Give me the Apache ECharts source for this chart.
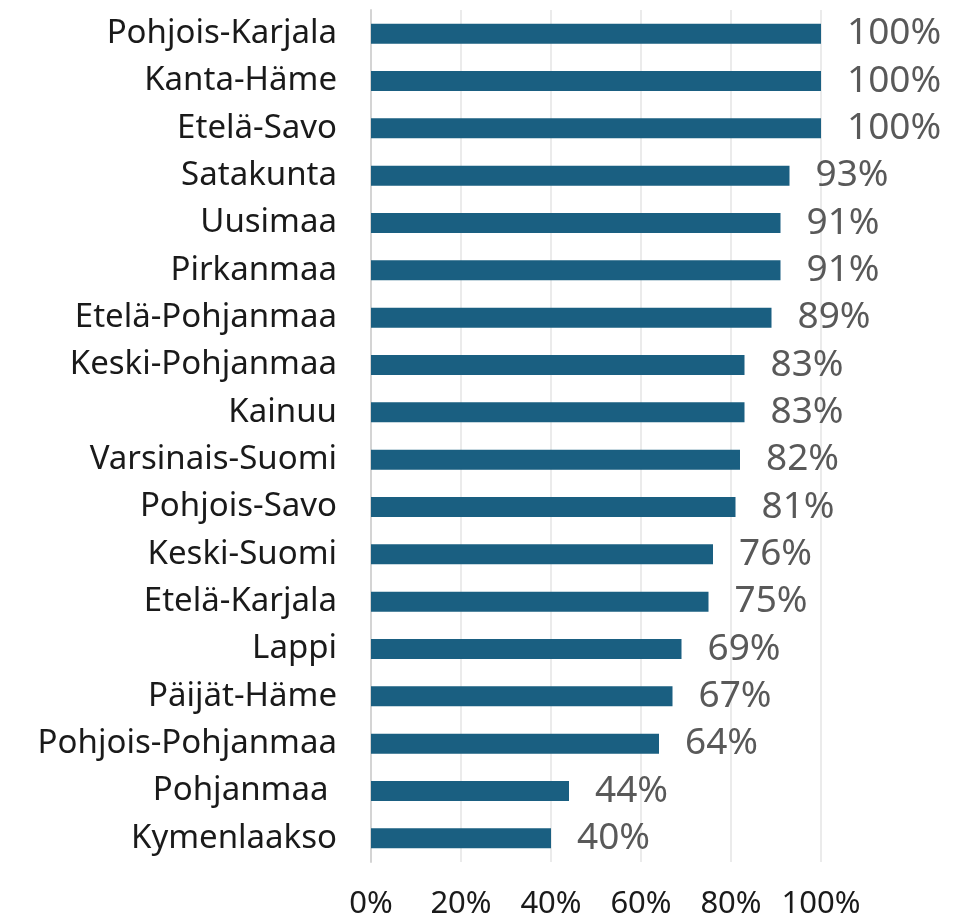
<!DOCTYPE html>
<html>
<head>
<meta charset="utf-8">
<script src="https://cdn.jsdelivr.net/npm/echarts@6/dist/echarts.min.js"></script>
<style>
  html, body { margin: 0; padding: 0; background: #fff; }
  #chartMain { width: 968px; height: 923px; }
</style>
</head>
<body>
<div id="chartMain"></div>
<script>
// maakunnat ylhäältä alas
var regions = ['Pohjois-Karjala', 'Kanta-Häme', 'Etelä-Savo', 'Satakunta', 'Uusimaa', 'Pirkanmaa',
  'Etelä-Pohjanmaa', 'Keski-Pohjanmaa', 'Kainuu', 'Varsinais-Suomi', 'Pohjois-Savo', 'Keski-Suomi',
  'Etelä-Karjala', 'Lappi', 'Päijät-Häme', 'Pohjois-Pohjanmaa', 'Pohjanmaa ', 'Kymenlaakso'];
var shares = [100, 100, 100, 93, 91, 91, 89, 83, 83, 82, 81, 76, 75, 69, 67, 64, 44, 40];
var ticks = [0, 20, 40, 60, 80, 100];

var myChart = echarts.init(document.getElementById('chartMain'));
var font = '"Noto Sans", sans-serif';

var option = {
  backgroundColor: '#fff',
  animation: false,
  grid: {
    left: 371,
    right: 147,
    top: 10,
    bottom: 61
  },
  xAxis: {
    type: 'value',
    min: ticks[0],
    max: ticks[ticks.length - 1],
    interval: 20,
    axisLine: { show: false },
    axisTick: { show: false },
    splitLine: { lineStyle: { color: '#ebebeb', width: 2 } },
    axisLabel: {
      margin: 27,
      fontFamily: font,
      fontSize: 31,
      color: '#1a1a1a',
      formatter: '{value}%'
    }
  },
  yAxis: {
    type: 'category',
    inverse: true,
    data: regions,
    axisLine: { show: true, lineStyle: { color: '#d4d4d4', width: 2 } },
    axisTick: { show: false },
    axisLabel: {
      margin: 34,
      fontFamily: font,
      fontSize: 33,
      color: '#1a1a1a'
    }
  },
  series: [{
    type: 'bar',
    data: shares,
    barWidth: 20,
    itemStyle: { color: '#1a5f81' },
    label: {
      show: true,
      position: 'right',
      distance: 26,
      fontFamily: font,
      fontSize: 37,
      color: '#595959',
      formatter: '{c}%'
    }
  }]
};
myChart.setOption(option, true);
</script>
</body>
</html>
